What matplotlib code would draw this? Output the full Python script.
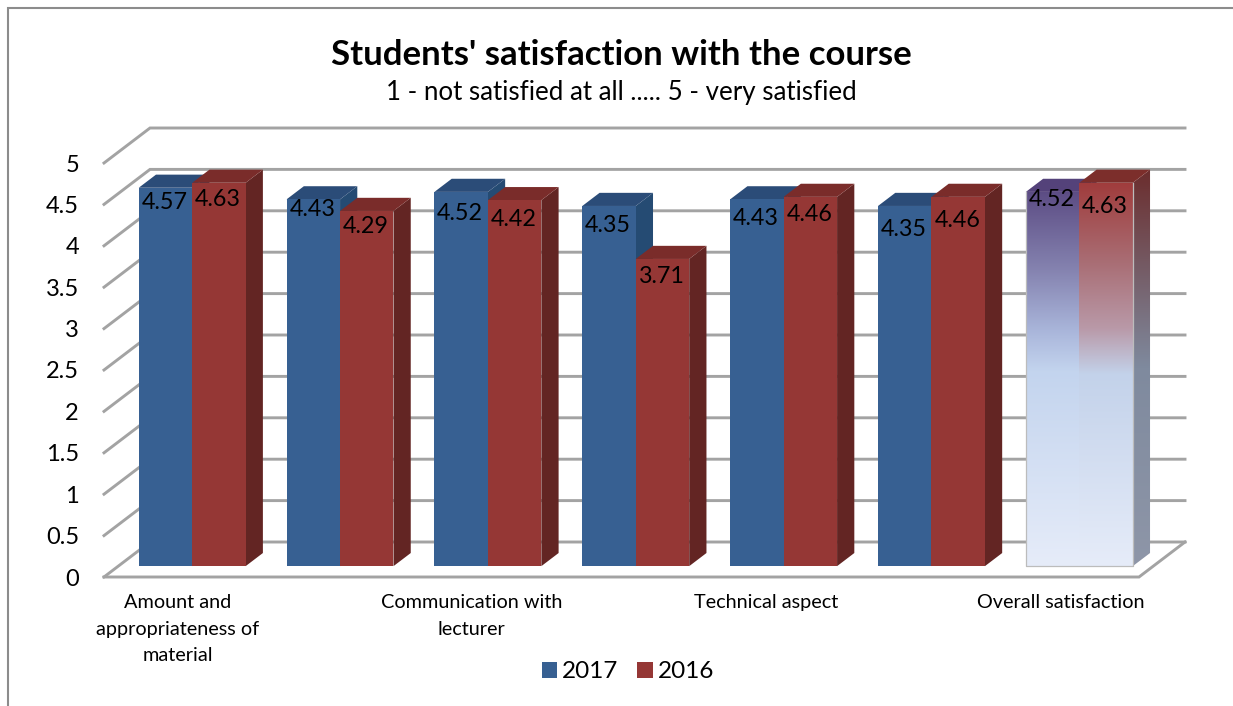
"""
plot.py
-------
Students' satisfaction chart, Excel style 3D clustered columns drawn on a 2D axes.
The depth of the chart is a shear of the front plane, in data units.
"""

import matplotlib
matplotlib.use("Agg")
import matplotlib.pyplot as plt
import numpy as np
from matplotlib.colors import LinearSegmentedColormap
from matplotlib.lines import Line2D
from matplotlib.patches import Patch, Polygon
from matplotlib.transforms import ScaledTranslation

categories = [
    "Amount and\nappropriateness of\nmaterial",
    "",
    "Communication with\nlecturer",
    "",
    "Technical aspect",
    "",
    "Overall satisfaction",
]
values_2017 = [4.57, 4.43, 4.52, 4.35, 4.43, 4.35, 4.52]
values_2016 = [4.63, 4.29, 4.42, 3.71, 4.46, 4.46, 4.63]
y_ticks = [0, 0.5, 1, 1.5, 2, 2.5, 3, 3.5, 4, 4.5, 5]
y_tick_labels = ["0", "0.5", "1", "1.5", "2", "2.5", "3", "3.5", "4", "4.5", "5"]

W, H = 1233, 706
plt.rcParams["font.family"] = ["Lato", "DejaVu Sans"]

BLUE = dict(front="#376092", top="#2b4c78", side="#254b73")
RED = dict(front="#953735", top="#7a2c2a", side="#632523")
GRID = "#a3a3a3"

fig = plt.figure(figsize=(W / 100, H / 100), dpi=100)
# front plane of the chart: 104..1139 px across, y 577 (value 0) up to 163 (value 5)
ax = fig.add_axes([104 / W, 1 - 577 / H, 1035 / W, 414 / H])
ax.set_xlim(0, 7)
ax.set_ylim(0, 5)
ax.patch.set_alpha(0)
for s in ax.spines.values():
    s.set_visible(False)

# shear for depth 1, in data units
DX = 46 / (1035 / 7)
DY = 35 / (414 / 5)
BAR_W = 0.3615
GAP = 0.1385
D_FRONT, D_BACK = 0.31, 0.685


def proj(x, y, d):
    return (x + d * DX, y + d * DY)


def faces(left, val):
    right = left + BAR_W
    front = [proj(left, 0, D_FRONT), proj(right, 0, D_FRONT), proj(right, val, D_FRONT), proj(left, val, D_FRONT)]
    top = [proj(left, val, D_FRONT), proj(right, val, D_FRONT), proj(right, val, D_BACK), proj(left, val, D_BACK)]
    side = [proj(right, 0, D_FRONT), proj(right, 0, D_BACK), proj(right, val, D_BACK), proj(right, val, D_FRONT)]
    return front, top, side


def gradient_face(pts, stops, z):
    pts = np.array(pts)
    cmap = LinearSegmentedColormap.from_list("g", stops)
    poly = Polygon(pts, closed=True, transform=ax.transData, fc="none", ec="none")
    ax.add_patch(poly)
    ext = [pts[:, 0].min(), pts[:, 0].max(), pts[:, 1].min(), pts[:, 1].max()]
    im = ax.imshow(np.linspace(0, 1, 256).reshape(-1, 1), cmap=cmap, extent=ext, aspect="auto",
                   origin="upper", zorder=z)
    im.set_clip_path(poly)
    # the side face of the last column sticks out past the front plane
    im.set_clip_box(fig.bbox)


def draw_bar(left, val, colors, z):
    front, top, side = faces(left, val)
    ax.add_patch(Polygon(side, fc=colors["side"], ec="none", zorder=z, clip_on=False))
    ax.add_patch(Polygon(top, fc=colors["top"], ec="none", zorder=z, clip_on=False))
    ax.add_patch(Polygon(front, fc=colors["front"], ec="none", zorder=z, clip_on=False))


# walls and floor
for t in y_ticks:
    x0, y0 = proj(0, t, 0)
    x1, y1 = proj(0, t, 1)
    x2, y2 = proj(7, t, 1)
    ax.plot([x0, x1, x2], [y0, y1, y2], color=GRID, lw=2.1, zorder=1, clip_on=False, solid_joinstyle="miter")
x0, y0 = proj(0, 0, 0)
x1, y1 = proj(7, 0, 0)
x2, y2 = proj(7, 0, 1)
ax.plot([x0, x1, x2], [y0, y1, y2], color=GRID, lw=2.1, zorder=1, clip_on=False, solid_joinstyle="miter")

# columns, the last cluster has the gradient fill
z = 3
for i in range(6):
    left = i + GAP
    draw_bar(left, values_2017[i], BLUE, z)
    z += 1
    draw_bar(left + BAR_W, values_2016[i], RED, z)
    z += 1

left = 6 + GAP
front, top, side = faces(left, values_2017[6])
blue_left = front[3], front[0]
gradient_face(side, ["#5a4a80", "#c3d4ee", "#e6ecf9"], z)
ax.add_patch(Polygon(top, fc="#54427a", ec="none", zorder=z, clip_on=False))
gradient_face(front, [(0, "#5c4c84"), (0.21, "#8583b0"), (0.37, "#a9b5da"), (0.48, "#c3d4ee"), (1, "#e6ecf9")], z + 1)
z += 2
front, top, side = faces(left + BAR_W, values_2016[6])
gradient_face(side, [(0, "#6b2d2d"), (0.5, "#7f8a9e"), (1, "#8e96a8")], z)
ax.add_patch(Polygon(top, fc="#7c2e2b", ec="none", zorder=z, clip_on=False))
gradient_face(front, [(0, "#a03c3c"), (0.21, "#a96e75"), (0.38, "#b999a8"), (0.5, "#c3d2ea"), (1, "#e6ecf9")], z + 1)
# thin grey edge round the pale end of the cluster
edge = np.array([blue_left[0], blue_left[1], front[1], front[2]])
ax.plot(edge[:, 0], edge[:, 1], color="#bcbcbc", lw=0.9, zorder=z + 2, clip_on=False)

ax.set_xlim(0, 7)
ax.set_ylim(0, 5)

# data labels, Excel put them unevenly so each one has its own drop below the bar top (px)
drop_2017 = [15, 10, 22, 20, 19, 24, 8]
drop_2016 = [17, 16, 19, 18, 18, 24, 24]
for i in range(7):
    for j, (vals, drops) in enumerate([(values_2017, drop_2017), (values_2016, drop_2016)]):
        x, y = proj(i + GAP + (j + 0.5) * BAR_W, vals[i], D_FRONT)
        ax.annotate(f"{vals[i]:.2f}", (x, y), xytext=(-0.7, -drops[i] * 0.72), textcoords="offset points",
                    ha="center", va="center", fontsize=16.8, color="black", zorder=50, annotation_clip=False)

# axes text
ax.set_yticks(y_ticks, y_tick_labels, fontsize=17)
ax.set_xticks(np.arange(7) + 0.5, categories, fontsize=14.3, linespacing=1.67)
ax.tick_params(axis="y", length=0, pad=18)
ax.tick_params(axis="x", length=0, pad=12.5)
# the category labels drift left of their ticks a little in the original
for lbl, shift in zip(ax.get_xticklabels(), [0, 0, -1.5, 0, -2.5, 0, -3]):
    lbl.set_transform(lbl.get_transform() + ScaledTranslation(shift / 72, 0, fig.dpi_scale_trans))

fig.text(621 / W, 1 - 55 / H, "Students' satisfaction with the course", ha="center", va="center",
         fontsize=25, fontweight="bold")
fig.text(621 / W, 1 - 92.5 / H, "1 - not satisfied at all ..... 5 - very satisfied", ha="center", va="center",
         fontsize=18.6)

handles = [Patch(fc=BLUE["front"], label="2017"), Patch(fc=RED["front"], label="2016")]
fig.legend(handles=handles, loc="center", bbox_to_anchor=(628 / W, 1 - 672 / H), ncol=2, frameon=False,
           fontsize=17.5, handlelength=0.62, handleheight=0.62, handletextpad=0.2, columnspacing=0.78)

# chart area border: only the left and top edges fall inside the crop
fig.add_artist(Line2D([7.5 / W, 7.5 / W, 1], [-0.01, 1 - 7.5 / H, 1 - 7.5 / H], transform=fig.transFigure,
                      color="#8c8c8c", lw=1.5, solid_joinstyle="miter"))

fig.savefig("out.png", dpi=100)
